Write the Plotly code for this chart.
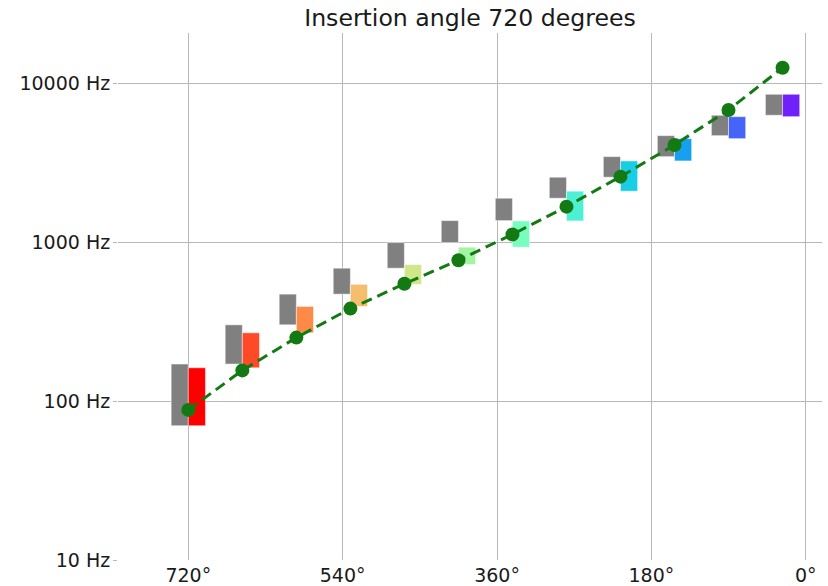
import plotly.graph_objects as go

# ---- data ----
angles = [720, 657, 594, 531, 468, 405, 342, 279, 216, 153, 90, 27]
gray_edges = [70, 171, 302, 471, 686, 994, 1367, 1891, 2563, 3454, 4682, 6291, 8527]
color_edges = [70, 162, 269, 394, 543, 723, 930, 1361, 2094, 3246, 4483, 6165, 8527]
green_freqs = [88, 156, 251, 382, 547, 770, 1119, 1674, 2585, 4093, 6795, 12535]
bar_colors = ["#ff0000", "#ff4a28", "#ff8a48", "#f4be6c", "#d0e68a", "#a2f6a2",
              "#78fdbe", "#4ef0d4", "#18cde6", "#18a0f0", "#4664fa", "#7020f8"]
x_tickvals = [720, 540, 360, 180, 0]
x_ticktext = ["720°", "540°", "360°", "180°", "0°"]
y_tickvals = [10, 100, 1000, 10000]
y_ticktext = ["10 Hz", "100 Hz", "1000 Hz", "10000 Hz"]
title_text = "Insertion angle 720 degrees"
bar_width = 20

fig = go.Figure()

gray_base = gray_edges[:-1]
gray_len = [gray_edges[i + 1] - gray_edges[i] for i in range(len(angles))]
col_base = color_edges[:-1]
col_len = [color_edges[i + 1] - color_edges[i] for i in range(len(angles))]

fig.add_trace(go.Bar(
    x=angles, y=gray_len, base=gray_base, width=bar_width, offset=0,
    marker=dict(color="#808080", line=dict(color="rgba(255,255,255,0.6)", width=0.8)),
    showlegend=False, hoverinfo="skip"))

fig.add_trace(go.Bar(
    x=angles, y=col_len, base=col_base, width=bar_width, offset=-bar_width,
    marker=dict(color=bar_colors, line=dict(color="rgba(255,255,255,0.6)", width=0.8)),
    showlegend=False, hoverinfo="skip"))

fig.add_trace(go.Scatter(
    x=angles, y=green_freqs, mode="lines+markers",
    line=dict(color="#137a13", width=3, dash="11px,6px"),
    marker=dict(color="#137a13", size=14),
    showlegend=False))

fig.update_layout(
    width=828, height=586,
    margin=dict(l=118, r=6, t=33, b=26, autoexpand=False),
    paper_bgcolor="white", plot_bgcolor="white",
    barmode="overlay",
    font=dict(family="DejaVu Sans", size=19, color="#1a1a1a"),
    title=dict(text=title_text, x=470 / 828, xanchor="center",
               y=1 - 18 / 586, yanchor="middle", yref="container",
               font=dict(size=23.6, family="DejaVu Sans", color="#1a1a1a")),
    xaxis=dict(range=[802, -19], tickvals=x_tickvals, ticktext=x_ticktext,
               showgrid=True, gridcolor="#b8b8b8", gridwidth=1.3,
               zeroline=False, showline=False, ticks="", ticklabelstandoff=2,
               automargin=False),
    yaxis=dict(type="log", range=[1, 4.3164], tickvals=y_tickvals, ticktext=y_ticktext,
               showgrid=True, gridcolor="#b8b8b8", gridwidth=1.3,
               zeroline=False, showline=False, ticks="outside", ticklen=4,
               tickcolor="#b8b8b8", tickwidth=1.3, ticklabelstandoff=-1,
               automargin=False),
)

# remove the browser's default 8px body margin so the figure fills the window
fig.write_html("out.html", config={"displayModeBar": False},
               post_script="document.body.style.margin='0';")
